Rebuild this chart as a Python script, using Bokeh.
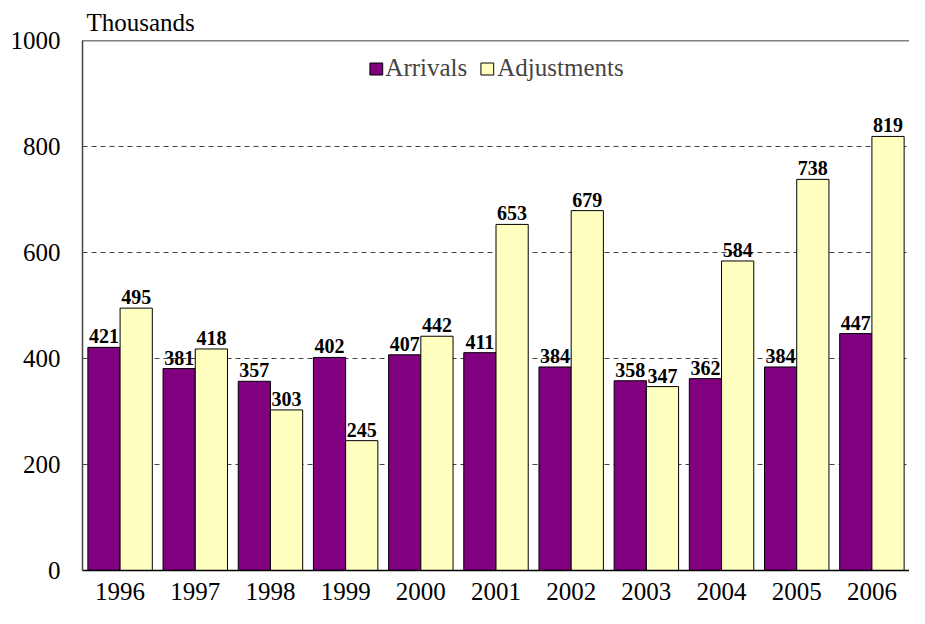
from bokeh.plotting import figure
from bokeh.models import ColumnDataSource, FactorRange, Span, Legend, LegendItem, FixedTicker
from bokeh.transform import dodge
from bokeh.core.properties import value
from bokeh.embed import file_html
from bokeh.resources import INLINE

years = ["1996", "1997", "1998", "1999", "2000", "2001", "2002", "2003", "2004", "2005", "2006"]
arrivals = [421, 381, 357, 402, 407, 411, 384, 358, 362, 384, 447]
adjustments = [495, 418, 303, 245, 442, 653, 679, 347, 584, 738, 819]
y_ticks = [0, 200, 400, 600, 800, 1000]

FONT = "Liberation Serif"

src = ColumnDataSource(data=dict(
    year=years,
    arr=arrivals,
    adj=adjustments,
    arr_lbl=[str(v) for v in arrivals],
    adj_lbl=[str(v) for v in adjustments],
))

p = figure(
    x_range=FactorRange(*years, range_padding=0),
    y_range=(0, 1000),
    width=909, height=608,
    output_backend="svg", toolbar_location=None,
    min_border_left=82, min_border_right=0, min_border_top=40, min_border_bottom=38,
)
p.outline_line_color = None
p.background_fill_color = "white"

p.title.text = "Thousands"
p.title.align = "left"
p.title.offset = 4
p.title.standoff = 10
p.title.text_font = FONT
p.title.text_font_size = "25px"
p.title.text_font_style = "normal"
p.title.text_color = "black"

off = 0.2143
bw = 0.4286
r1 = p.vbar(x=dodge("year", -off, range=p.x_range), top="arr", width=bw, source=src,
            fill_color="#800080", line_color="black", line_width=1)
r2 = p.vbar(x=dodge("year", off, range=p.x_range), top="adj", width=bw, source=src,
            fill_color="#FFFFC0", line_color="black", line_width=1)

p.text(x=dodge("year", -off, range=p.x_range), y="arr", text="arr_lbl", source=src,
       text_align="center", text_baseline="bottom", y_offset=-4,
       text_font=value(FONT), text_font_style="bold", text_font_size="20px", text_color="black")
p.text(x=dodge("year", off, range=p.x_range), y="adj", text="adj_lbl", source=src,
       text_align="center", text_baseline="bottom", y_offset=-4,
       text_font=value(FONT), text_font_style="bold", text_font_size="20px", text_color="black")

# grid
p.xgrid.grid_line_color = None
p.ygrid.ticker = FixedTicker(ticks=[200, 400, 600, 800])
p.ygrid.grid_line_color = "#444444"
p.ygrid.grid_line_dash = "5 4"
p.ygrid.grid_line_width = 1
p.ygrid.level = "underlay"

p.add_layout(Span(location=1000, dimension="width", line_color="black", line_width=1.5))

# axes
p.yaxis.ticker = FixedTicker(ticks=y_ticks)
for axes in (p.xaxis, p.yaxis):
    axes.major_tick_line_color = None
    axes.minor_tick_line_color = None
    axes.axis_line_width = 1.5
    axes.major_label_text_font = FONT
    axes.major_label_text_font_size = "25px"
    axes.major_label_text_color = "black"
p.yaxis.axis_line_color = "#444444"
p.xaxis.axis_line_color = "black"
p.yaxis.major_label_standoff = 16
p.xaxis.major_label_standoff = 6

# legend
legend = Legend(items=[LegendItem(label="Arrivals", renderers=[r1]),
                       LegendItem(label="Adjustments", renderers=[r2])],
                location="top_center", orientation="horizontal",
                border_line_color=None, background_fill_alpha=0,
                label_text_font=FONT, label_text_font_size="25px",
                glyph_width=16, glyph_height=15, spacing=12, label_standoff=2,
                margin=14, padding=4)
p.add_layout(legend)

open("out.html", "w").write(file_html(p, INLINE))
